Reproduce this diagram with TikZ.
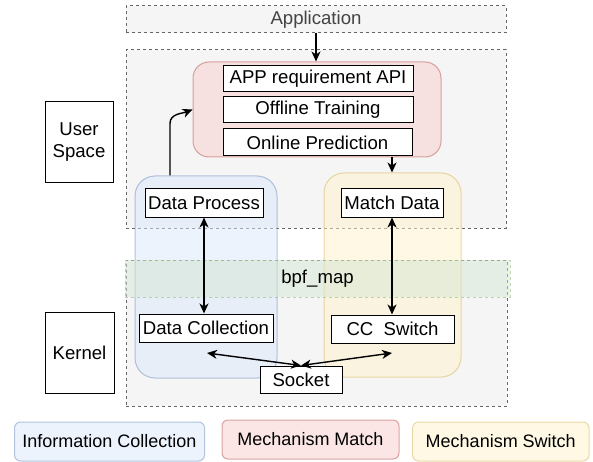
\documentclass[tikz,border=0pt]{standalone}
\usepackage{fontspec}
\setmainfont{Liberation Sans}
\usetikzlibrary{arrows.meta}
\definecolor{dashgray}{HTML}{666666}
\definecolor{bggray}{HTML}{F5F5F5}
\definecolor{apptext}{HTML}{444444}
\definecolor{redfill}{HTML}{F8CECC}
\definecolor{redline}{HTML}{B85450}
\definecolor{bluefill}{HTML}{DAE8FC}
\definecolor{blueline}{HTML}{6C8EBF}
\definecolor{yelfill}{HTML}{FFF2CC}
\definecolor{yelline}{HTML}{D6B656}
\definecolor{grnfill}{HTML}{D5E8D4}
\definecolor{grnline}{HTML}{82B366}
\begin{document}
\begin{tikzpicture}[x=1pt,y=-1pt,
  every node/.style={font=\fontsize{18.6}{22}\selectfont,inner sep=1pt},
  layer/.style={draw=dashgray,fill=bggray,dash pattern=on 3pt off 3pt,line width=1pt},
  group/.style={rounded corners=16pt,line width=1pt,fill opacity=.5,draw opacity=.5,text opacity=1},
  legend/.style={group,rounded corners=6pt,minimum height=39pt,font=\fontsize{18}{21}\selectfont},
  blk/.style={draw,fill=white,line width=1pt},
  arr/.style={-{Stealth[length=10pt,width=9pt,inset=3pt]},line width=1.4pt},
  darr/.style={{Stealth[length=10pt,width=9pt,inset=3pt]}-{Stealth[length=10pt,width=9pt,inset=3pt]},line width=1.4pt}]
\useasboundingbox (0,0) rectangle (593,462);
% layers
\node[layer,text=apptext,minimum width=380pt,minimum height=27pt] (app) at (316,19.5) {Application};
\node[layer,minimum width=380pt,minimum height=178pt] (user) at (316,139) {};
\node[layer,minimum width=381pt,minimum height=146pt] (kern) at (316.5,333) {};
% groups
\node[group,draw=redline,fill=redfill,minimum width=248pt,minimum height=95pt] (mm) at (317,109.5) {};
\node[group,rounded corners=20pt,draw=blueline,fill=bluefill,minimum width=142pt,minimum height=202pt] (ic) at (206,277) {};
\node[group,rounded corners=20pt,draw=yelline,fill=yelfill,minimum width=137pt,minimum height=204pt] (ms) at (392.5,275) {};
\node[group,sharp corners,draw=grnline,fill=grnfill,dash pattern=on 3pt off 3pt,minimum width=385pt,minimum height=37pt] (bpf) at (317.5,278.5) {bpf\_map};
% legend
\node[legend,draw=blueline,fill=bluefill,minimum width=190pt] (legic) at (109.5,441.5) {Information Collection};
\node[legend,draw=redline,fill=redfill,minimum width=177pt] (legmm) at (310.5,439.5) {Mechanism Match};
\node[legend,draw=yelline,fill=yelfill,minimum width=176.5pt] (legms) at (500.75,441.5) {Mechanism Switch};
% blocks
\node[blk,minimum width=190pt,minimum height=26pt] (api) at (318,79) {APP requirement API};
\node[blk,minimum width=190pt,minimum height=26pt] (off) at (318,110) {Offline Training};
\node[blk,minimum width=189pt,minimum height=27pt] (onl) at (317.5,142.5) {Online Prediction};
\node[blk,minimum width=118pt,minimum height=28pt] (proc) at (204,203) {Data Process};
\node[blk,minimum width=102pt,minimum height=28pt] (match) at (392,203) {Match Data};
\node[blk,minimum width=134pt,minimum height=28pt] (coll) at (206,328) {Data Collection};
\node[blk,minimum width=123pt,minimum height=28pt] (ccsw) at (392.5,329) {CC~~Switch};
\node[blk,minimum width=82pt,minimum height=27pt] (sock) at (301,379.5) {Socket};
\node[blk,align=center,minimum width=68pt,minimum height=81pt] (userl) at (79,142.5) {User\\Space};
\node[blk,minimum width=69pt,minimum height=81pt] (kernl) at (79.5,352.5) {Kernel};
% arrows
\coordinate (cl) at (207,353);
\coordinate (cr) at (392,353);
\draw[arr] (app.south) -- (app.south |- mm.north);
\draw[arr] ([xshift=-36pt]ic.north) -- ++(0,-52) .. controls +(0,-10) and +(-10,4) .. (mm.west);
\draw[arr] (match.north |- mm.south) -- (match.north |- ms.north);
\draw[darr] (proc.south) -- (proc.south |- coll.north);
\draw[darr] (match.south) -- (match.south |- ccsw.north);
\draw[darr] (cl) -- (sock.north); %left
\draw[darr] (cr) -- (sock.north); %right
\end{tikzpicture}
\end{document}
